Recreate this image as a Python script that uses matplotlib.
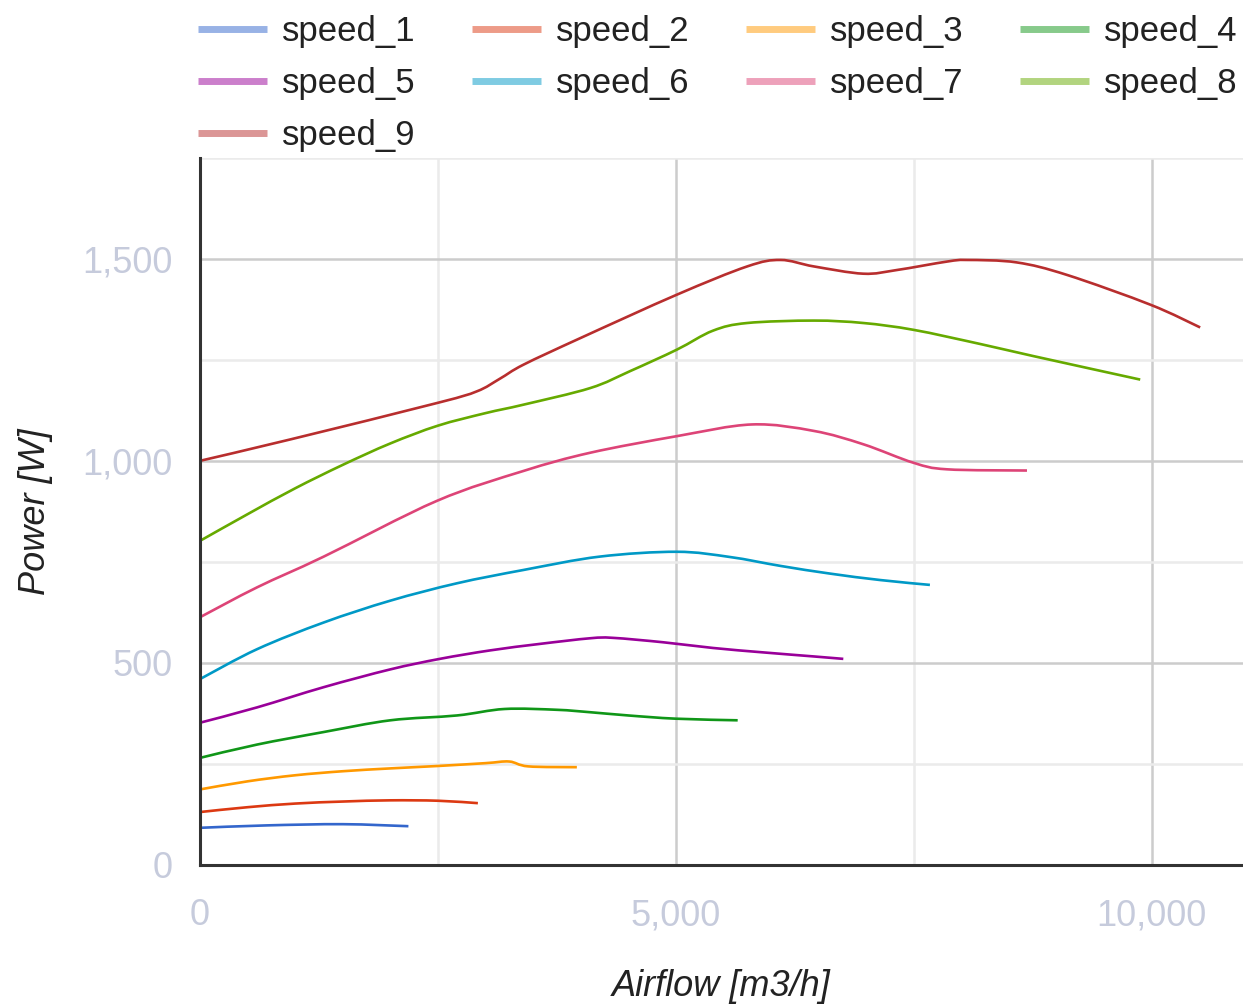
import matplotlib
matplotlib.use("Agg")
import matplotlib.pyplot as plt
import numpy as np
from matplotlib.lines import Line2D
from matplotlib.path import Path
from matplotlib.patches import PathPatch
from matplotlib.ticker import MultipleLocator, FuncFormatter

plt.rcParams['font.family'] = ['Liberation Sans', 'DejaVu Sans']

series_names = ["speed_1", "speed_2", "speed_3", "speed_4", "speed_5",
                "speed_6", "speed_7", "speed_8", "speed_9"]
colors = ['#3366cc', '#dc3912', '#ff9900', '#109618', '#990099',
          '#0099c6', '#dd4477', '#66aa00', '#b82e2e']

speed_1_x = [0, 700, 1500, 2190]
speed_1_y = [92, 98, 101, 96]

speed_2_x = [0, 500, 1000, 1500, 2000, 2500, 2920]
speed_2_y = [131, 143, 152, 157, 160, 159, 153]

speed_3_x = [0, 500, 1000, 1500, 2000, 2500, 3000, 3250, 3450, 3960]
speed_3_y = [187, 207, 222, 232, 239, 245, 252, 256, 244, 242]

speed_4_x = [0, 600, 1300, 2000, 2700, 3200, 3750, 4100, 4500, 5000, 5650]
speed_4_y = [265, 298, 329, 358, 370, 386, 384, 378, 370, 362, 358]

speed_5_x = [0, 600, 1300, 2000, 2520, 3050, 3570, 4100, 4340, 4870, 5390, 5920, 6450, 6760]
speed_5_y = [352, 390, 440, 484, 510, 531, 547, 561, 562, 551, 537, 526, 516, 510]

speed_6_x = [0, 600, 1300, 2000, 2700, 3400, 4200, 5010, 5570, 6100, 6620, 7150, 7670]
speed_6_y = [460, 534, 600, 654, 697, 730, 763, 775, 762, 740, 721, 705, 693]

speed_7_x = [0, 600, 1300, 2490, 3400, 4100, 5010, 5800, 6450, 6970, 7500, 7850, 8690]
speed_7_y = [613, 687, 763, 901, 975, 1020, 1061, 1090, 1074, 1041, 995, 979, 976]

speed_8_x = [0, 500, 1000, 1500, 2000, 2500, 3000, 3400, 4100, 4520, 5010, 5390, 5750, 6450, 6970, 7500, 8200, 8760, 9880]
speed_8_y = [802, 868, 932, 990, 1043, 1087, 1118, 1139, 1180, 1222, 1275, 1322, 1341, 1347, 1341, 1324, 1289, 1259, 1201]

speed_9_x = [0, 950, 2490, 2910, 3150, 3400, 4000, 5010, 5750, 6100, 6450, 6970, 7320, 7850, 8060, 8580, 9110, 9990, 10510]
speed_9_y = [1000, 1053, 1143, 1172, 1203, 1238, 1304, 1411, 1481, 1497, 1481, 1463, 1472, 1493, 1497, 1491, 1460, 1386, 1330]

xs = [speed_1_x, speed_2_x, speed_3_x, speed_4_x, speed_5_x, speed_6_x, speed_7_x, speed_8_x, speed_9_x]
ys = [speed_1_y, speed_2_y, speed_3_y, speed_4_y, speed_5_y, speed_6_y, speed_7_y, speed_8_y, speed_9_y]

x_title = "Airflow [m3/h]"
y_title = "Power [W]"


def smooth_path(x, y):
    """Bezier path through the data points (Catmull-Rom style tangents)."""
    p = np.column_stack([x, y]).astype(float)
    n = len(p)
    verts = [p[0]]
    codes = [Path.MOVETO]
    for i in range(n - 1):
        p0 = p[i - 1] if i > 0 else p[i]
        p1, p2 = p[i], p[i + 1]
        p3 = p[i + 2] if i + 2 < n else p[i + 1]
        c1 = p1 + (p2 - p0) / 6.0
        c2 = p2 - (p3 - p1) / 6.0
        verts += [c1, c2, p2]
        codes += [Path.CURVE4] * 3
    return Path(np.array(verts), codes)


W, H = 1243, 1006
fig = plt.figure(figsize=(W / 100, H / 100), dpi=100)
ax = fig.add_axes([200 / W, (H - 865) / H, (W - 200) / W, (865 - 157.7) / H])

for x, y, c in zip(xs, ys, colors):
    ax.add_patch(PathPatch(smooth_path(x, y), fill=False, edgecolor=c,
                           lw=1.9, capstyle='butt', zorder=3))

ax.set_xlim(0, 10960)
ax.set_ylim(0, 1750)
ax.xaxis.set_major_locator(MultipleLocator(5000))
ax.xaxis.set_minor_locator(MultipleLocator(2500))
ax.yaxis.set_major_locator(MultipleLocator(500))
ax.yaxis.set_minor_locator(MultipleLocator(250))
fmt = FuncFormatter(lambda v, p: f"{int(v):,}")
ax.xaxis.set_major_formatter(fmt)
ax.yaxis.set_major_formatter(fmt)

ax.grid(True, which='major', color='#cccccc', lw=1.8, zorder=0)
ax.grid(True, which='minor', color='#ebebeb', lw=1.8, zorder=0)
ax.set_axisbelow(True)

for s in ['top', 'right']:
    ax.spines[s].set_visible(False)
for s in ['left', 'bottom']:
    ax.spines[s].set_color('#333333')
    ax.spines[s].set_linewidth(2.2)
    ax.spines[s].set_zorder(4)

ax.tick_params(which='both', length=0)
ax.tick_params(axis='y', pad=20, labelsize=26, labelcolor='#c6cbdc')
ax.tick_params(axis='x', pad=24, labelsize=26, labelcolor='#c6cbdc')

ax.set_xlabel(x_title, fontsize=26, style='italic', color='#222222', labelpad=26)
ax.set_ylabel(y_title, fontsize=26, style='italic', color='#222222', labelpad=21)

# legend laid out row by row (4 columns): reorder for matplotlib's column fill
order = [0, 4, 8, 1, 5, 2, 6, 3, 7]
handles = [Line2D([0], [0], color=colors[i], lw=5, alpha=0.5,
                  solid_capstyle='butt') for i in order]
labels = [series_names[i] for i in order]
fig.legend(handles, labels, loc='upper left', bbox_to_anchor=(198 / W, 1 - 15 / H),
           ncol=4, frameon=False, fontsize=25, labelcolor='#222222',
           handlelength=2.0, handletextpad=0.42, columnspacing=1.62,
           labelspacing=0.55, borderpad=0.0, borderaxespad=0.0)

fig.savefig("out.png", dpi=100)
